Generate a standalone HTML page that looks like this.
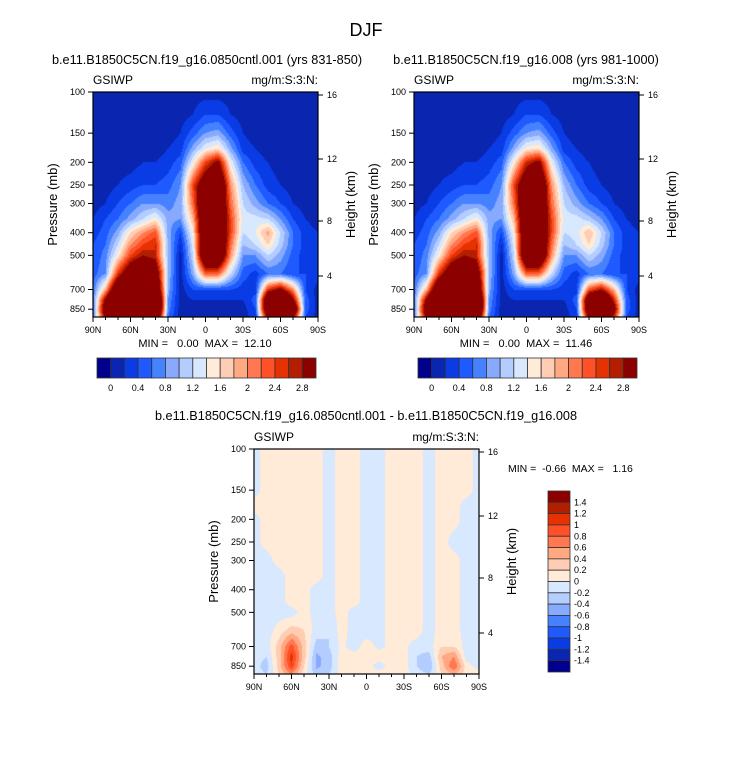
<!DOCTYPE html>
<html><head><meta charset="utf-8">
<style>
html,body{margin:0;padding:0;background:#fff;}
#root{position:relative;width:733px;height:770px;overflow:hidden;font-family:"Liberation Sans",sans-serif;}
canvas{position:absolute;}
svg{position:absolute;left:0;top:0;}
svg text{white-space:pre;}
</style></head>
<body>
<div id="root">
<svg id="svg" width="733" height="770"></svg>
</div>
<script>
// ---------- data ----------
const lats = [90,80,70,60,50,40,30,20,10,0,-10,-20,-30,-40,-50,-60,-70,-80,-90];
const pLevels = [100,125,150,175,200,250,300,350,400,450,500,600,700,775,850,920];
const latTickLabels = ['90N','60N','30N','0','30S','60S','90S'];
const latTickValues = [90,60,30,0,-30,-60,-90];
const pTickValues = [100,150,200,250,300,400,500,700,850];
const hTickLabels = ['16','12','8','4'];
const hTickOffsets = [3,67,129,184];
const absLevels = [0,0.2,0.4,0.6,0.8,1.0,1.2,1.4,1.6,1.8,2.0,2.2,2.4,2.6,2.8];
const absCbLabels = ['0','0.4','0.8','1.2','1.6','2','2.4','2.8'];
const diffLevels = [-1.4,-1.2,-1.0,-0.8,-0.6,-0.4,-0.2,0,0.2,0.4,0.6,0.8,1.0,1.2,1.4];
const diffCbLabels = ['1.4','1.2','1','0.8','0.6','0.4','0.2','0','-0.2','-0.4','-0.6','-0.8','-1','-1.2','-1.4'];
const colors = ['#00008c','#0a26b0','#0a3ce6','#1e5aff','#4682ff','#87aaff','#b4cdff','#d7e8ff','#ffebd7','#ffcdb4','#ffa882','#ff7850','#ff5028','#e63200','#b41e00','#8c0000'];
const fieldA = [
[.1,.1,.1,.1,.1,.1,.1,.1,.1,.1,.1,.1,.1,.1,.1,.1,.1,.1,.1],
[.1,.1,.1,.1,.1,.1,.1,.1,.2,.4,.4,.2,.1,.1,.1,.1,.1,.1,.1],
[.1,.1,.1,.1,.1,.1,.1,.2,.5,.8,.9,.5,.2,.1,.1,.1,.1,.1,.1],
[.1,.1,.1,.1,.1,.1,.2,.3,.9,1.4,1.6,.9,.3,.2,.1,.1,.1,.1,.1],
[.1,.1,.1,.1,.2,.2,.3,.5,1.4,2.4,3,1.4,.6,.3,.2,.1,.1,.1,.1],
[.1,.1,.2,.3,.4,.4,.5,.8,2.4,3.5,4,2,1,.6,.3,.2,.1,.1,.1],
[.1,.2,.4,.6,.8,.8,.7,.9,2.2,4,4,2.2,1.2,.9,.6,.4,.2,.1,.1],
[.2,.4,.6,.9,1.2,1.5,.9,.8,1.8,4,4,2.4,1.3,1.3,1.2,.8,.4,.2,.1],
[.3,.5,.9,1.6,2,2.3,.9,.4,1.5,4,4,2.4,1.2,1.4,1.9,1.2,.6,.3,.2],
[.4,.6,1.2,2,2.4,2.6,1,.2,1.3,4,4,2.2,1,1.2,1.6,1.1,.6,.3,.2],
[.4,.7,1.5,2.4,2.8,2.6,1,.1,1.2,4,4,2,.8,.8,1.2,.9,.5,.3,.3],
[.5,.8,2.5,3.5,4,3.5,1,.1,.9,2.2,2.2,1.2,.5,.3,.6,.6,.4,.4,.3],
[.6,1.8,4,5,5,4,.9,.1,.4,.4,.4,.4,.3,.3,2.5,3,2,.4,.1],
[.6,3,5,6,6,5,.8,.1,.2,.2,.2,.2,.2,.5,4,5,3,.5,.1],
[.6,3.5,5,6,6,5,.7,.1,.1,.1,.1,.1,.1,.4,4,5,4,.5,.1],
[.6,3,4,5,5,4,.6,.1,.1,.1,.1,.1,.1,.3,3,4,3,.4,.1]];
const fieldB = [
[.1,.1,.1,.1,.1,.1,.1,.1,.1,.1,.1,.1,.1,.1,.1,.1,.1,.1,.1],
[.1,.1,.1,.1,.1,.1,.1,.1,.2,.4,.4,.2,.1,.1,.1,.1,.1,.1,.1],
[.1,.1,.1,.1,.1,.1,.1,.2,.5,.8,.9,.5,.2,.1,.1,.1,.1,.1,.1],
[.1,.1,.1,.1,.1,.1,.2,.3,.9,1.5,1.6,.9,.3,.2,.1,.1,.1,.1,.1],
[.1,.1,.1,.1,.2,.2,.3,.5,1.5,2.6,3,1.4,.6,.3,.2,.1,.1,.1,.1],
[.1,.1,.2,.3,.4,.4,.5,.8,2.4,3.6,4,2,1,.6,.3,.2,.1,.1,.1],
[.1,.2,.4,.6,.8,.8,.7,.9,2.2,4,4,2.2,1.2,.9,.6,.4,.2,.1,.1],
[.2,.4,.6,.9,1.2,1.5,.9,.8,1.8,4,4,2.4,1.3,1.3,1.1,.8,.4,.2,.1],
[.3,.5,.9,1.6,2,2.3,.9,.4,1.5,4,4,2.4,1.2,1.3,1.8,1.2,.6,.3,.2],
[.4,.6,1.2,2,2.4,2.6,1,.2,1.3,4,4,2.2,1,1.2,1.6,1.1,.6,.3,.2],
[.4,.7,1.5,2.4,2.8,2.6,1,.1,1.2,4,4,2,.8,.8,1.2,.9,.5,.3,.3],
[.5,.8,2.5,3.5,4,3.5,1,.1,.9,2.2,2.2,1.2,.5,.3,.6,.6,.4,.4,.3],
[.6,1.8,4,4.5,5,4,.9,.1,.4,.4,.4,.4,.3,.3,2.3,2.8,1.8,.4,.1],
[.6,3,5,5.5,6,5,.8,.1,.2,.2,.2,.2,.2,.5,3.8,4.5,2.6,.5,.1],
[.6,3.5,5,5.5,6,5,.7,.1,.1,.1,.1,.1,.1,.4,3.8,4.5,3.2,.5,.1],
[.6,3,4,5,5,4,.6,.1,.1,.1,.1,.1,.1,.3,3,3.6,2.6,.4,.1]];
const fieldDiff = [
[-.1,.1,.1,.1,.1,.1,-.1,.1,.1,-.1,-.1,.1,.1,.1,-.1,.1,.1,.1,-.1],
[-.1,.1,.1,.1,.1,.1,-.1,.1,.1,-.1,-.1,.1,.1,.1,-.1,.1,.1,.1,-.1],
[-.1,.1,.1,.1,.1,.1,-.1,.1,.1,-.1,-.1,.1,.1,.1,-.1,.1,.1,.1,-.1],
[.1,.1,.1,.1,.1,.1,-.1,.1,.1,-.1,-.1,.1,.1,.1,-.1,.1,.1,-.1,-.1],
[-.1,.1,.1,.1,.1,.1,-.1,.1,.1,-.1,-.1,.1,.1,.1,-.1,.1,.1,-.1,-.1],
[-.1,.1,.1,.1,.1,.1,-.1,.1,.1,-.1,-.1,.1,.1,.1,-.1,.1,-.1,-.1,-.1],
[-.1,-.1,.1,.1,.1,.1,-.1,.1,.1,-.1,-.1,.1,.1,.1,-.1,.1,.1,-.1,-.1],
[-.1,-.1,-.1,.1,.1,.1,-.1,.1,.1,-.1,-.1,.1,.1,.1,-.1,.1,.1,-.1,-.1],
[-.1,-.1,-.1,.1,.1,-.1,-.1,.1,.1,-.1,-.1,.1,.1,.1,-.1,.1,.1,-.1,-.1],
[-.1,-.1,-.1,.1,.1,-.1,-.1,.1,.1,-.1,-.1,.1,.1,.1,-.1,.1,.1,-.1,-.1],
[-.1,-.1,-.1,-.1,.1,-.1,-.1,.1,-.1,-.1,-.1,.1,.1,.1,-.1,.1,.1,-.1,-.1],
[-.1,-.1,.1,.3,.2,-.1,-.2,.1,-.1,-.1,-.1,.1,.1,.1,-.1,.1,.1,-.1,-.1],
[-.1,-.1,.3,.9,.3,-.3,-.2,.05,-.1,.1,-.05,.05,.05,-.1,-.1,.2,.2,-.1,-.1],
[-.1,-.2,.3,1.1,.3,-.45,-.3,.1,.1,.1,.1,.1,.1,-.2,-.3,.4,.6,-.1,-.1],
[-.1,-.3,.3,1,.2,-.45,-.3,.1,.1,.1,-.1,.1,.1,-.2,-.4,.3,.8,.1,-.1],
[-.1,-.2,.2,.6,.1,-.3,-.2,.1,.1,.1,.1,.1,.1,-.1,-.2,.2,.4,.1,.1]];

// ---------- helpers ----------
const NS='http://www.w3.org/2000/svg';
const svg=document.getElementById('svg');
const root=document.getElementById('root');
function mk(tag,attrs,parent){const e=document.createElementNS(NS,tag);for(const k in attrs)e.setAttribute(k,attrs[k]);(parent||svg).appendChild(e);return e;}
function txt(x,y,s,size,anchor,name,extra){const t=mk('text',Object.assign({x:x,y:y,'font-size':size,'text-anchor':anchor||'start',fill:'#000','font-family':'Liberation Sans, sans-serif'},extra||{}));t.textContent=s;


return t;}
const W=225,H=225,PXLN=101.5;
function colorIndex(v,levels){let i=0;while(i<levels.length&&v>=levels[i])i++;return i;}
function sample(field,lat,p){
  let c=(90-lat)/10;c=Math.max(0,Math.min(lats.length-1.0001,c));const ci=Math.floor(c),cf=c-ci;
  const lp=Math.log(p);let r=0;
  while(r<pLevels.length-2&&Math.log(pLevels[r+1])<lp)r++;
  const l0=Math.log(pLevels[r]),l1=Math.log(pLevels[r+1]);
  let rf=(lp-l0)/(l1-l0);rf=Math.max(0,Math.min(1,rf));
  const a=field[r][ci]*(1-cf)+field[r][ci+1]*cf;
  const b=field[r+1][ci]*(1-cf)+field[r+1][ci+1]*cf;
  return a*(1-rf)+b*rf;}
function hex(h){return [parseInt(h.substr(1,2),16),parseInt(h.substr(3,2),16),parseInt(h.substr(5,2),16)];}
const rgb=colors.map(hex);

function panel(x0,y0,field,levels,name){
  const xOf=lat=>x0+(90-lat)*W/180;
  const yOf=p=>y0+(Math.log(p)-Math.log(100))*PXLN;
  const cv=document.createElement('canvas');cv.width=W;cv.height=H;cv.style.left=x0+'px';cv.style.top=y0+'px';
  
  
  root.insertBefore(cv,svg);
  const ctx=cv.getContext('2d');const img=ctx.createImageData(W,H);
  for(let j=0;j<H;j++){const p=Math.exp(Math.log(100)+(j+0.5)/PXLN);
    for(let i=0;i<W;i++){const lat=90-(i+0.5)*180/W;const v=sample(field,lat,p);const c=rgb[colorIndex(v,levels)];const k=(j*W+i)*4;img.data[k]=c[0];img.data[k+1]=c[1];img.data[k+2]=c[2];img.data[k+3]=255;}}
  ctx.putImageData(img,0,0);
  svg.style.zIndex=1;
  const g=mk('g',{});
  
  
  mk('rect',{x:x0,y:y0,width:W,height:H,fill:'none',stroke:'#000','stroke-width':1.2},g);
  for(let l=-90;l<=90;l+=10){const x=xOf(l);const major=l%30===0;mk('line',{x1:x,x2:x,y1:y0+H,y2:y0+H+(major?5:3),stroke:'#000','stroke-width':1},g);}
  latTickValues.forEach((l,i)=>txt(xOf(l),y0+H+16,latTickLabels[i],9,'middle','lat-tick-label'));
  pTickValues.forEach(p=>{const y=yOf(p);mk('line',{x1:x0-5,x2:x0,y1:y,y2:y,stroke:'#000'},g);txt(x0-8,y+3,String(p),9,'end','pressure-tick-label');});
  hTickOffsets.forEach((o,i)=>{const y=y0+o;mk('line',{x1:x0+W,x2:x0+W+5,y1:y,y2:y,stroke:'#000'},g);txt(x0+W+9,y+3,hTickLabels[i],9,'start','height-tick-label');});
  txt(x0,y0-8,'GSIWP',12,'start','variable-label');
  txt(x0+W,y0-8,'mg/m:S:3:N:',12,'end','units-label');
  txt(x0-36,y0+H/2,'Pressure (mb)',13,'middle','y-axis-title',{transform:`rotate(-90 ${x0-36} ${y0+H/2})`});
  txt(x0+W+37,y0+H/2,'Height (km)',13,'middle','y2-axis-title',{transform:`rotate(-90 ${x0+W+37} ${y0+H/2})`});
}
function hbar(x0,y0,labels,name){
  const bw=(316-97)/16;
  colors.forEach((c,i)=>{const r=mk('rect',{x:x0+i*bw,y:y0,width:bw,height:20,fill:c,stroke:'#333','stroke-width':0.8});
    
    });
  labels.forEach((s,i)=>txt(x0+bw*(1+2*i),y0+33,s,9,'middle',name+'-label'));
}
function vbar(x0,y0,labels,name){
  const bh=(672-491)/16;
  colors.slice().reverse().forEach((c,i)=>{const r=mk('rect',{x:x0,y:y0+i*bh,width:22,height:bh,fill:c,stroke:'#333','stroke-width':0.8});
    
    });
  labels.forEach((s,i)=>txt(x0+26,y0+bh*(i+1)+3,s,9,'start',name+'-label'));
}

txt(366,36,'DJF',18,'middle','figure-title');
txt(207,64,'b.e11.B1850C5CN.f19_g16.0850cntl.001 (yrs 831-850)',12.7,'middle','left-panel-title');
txt(526,64,'b.e11.B1850C5CN.f19_g16.008 (yrs 981-1000)',12.7,'middle','right-panel-title');
panel(93,92,fieldA,absLevels,'control-panel');
panel(414,92,fieldB,absLevels,'experiment-panel');
txt(205,347,'MIN =   0.00  MAX =  12.10',11,'middle','left-min-max');
txt(526,347,'MIN =   0.00  MAX =  11.46',11,'middle','right-min-max');
hbar(97,358,absCbLabels,'left-colorbar');
hbar(418,358,absCbLabels,'right-colorbar');
txt(366,420,'b.e11.B1850C5CN.f19_g16.0850cntl.001 - b.e11.B1850C5CN.f19_g16.008',12.7,'middle','diff-panel-title');
panel(254,449,fieldDiff,diffLevels,'difference-panel');
txt(508,472,'MIN =  -0.66  MAX =   1.16',10.5,'start','diff-min-max');
vbar(548,491,diffCbLabels,'diff-colorbar');
</script>
</body></html>
